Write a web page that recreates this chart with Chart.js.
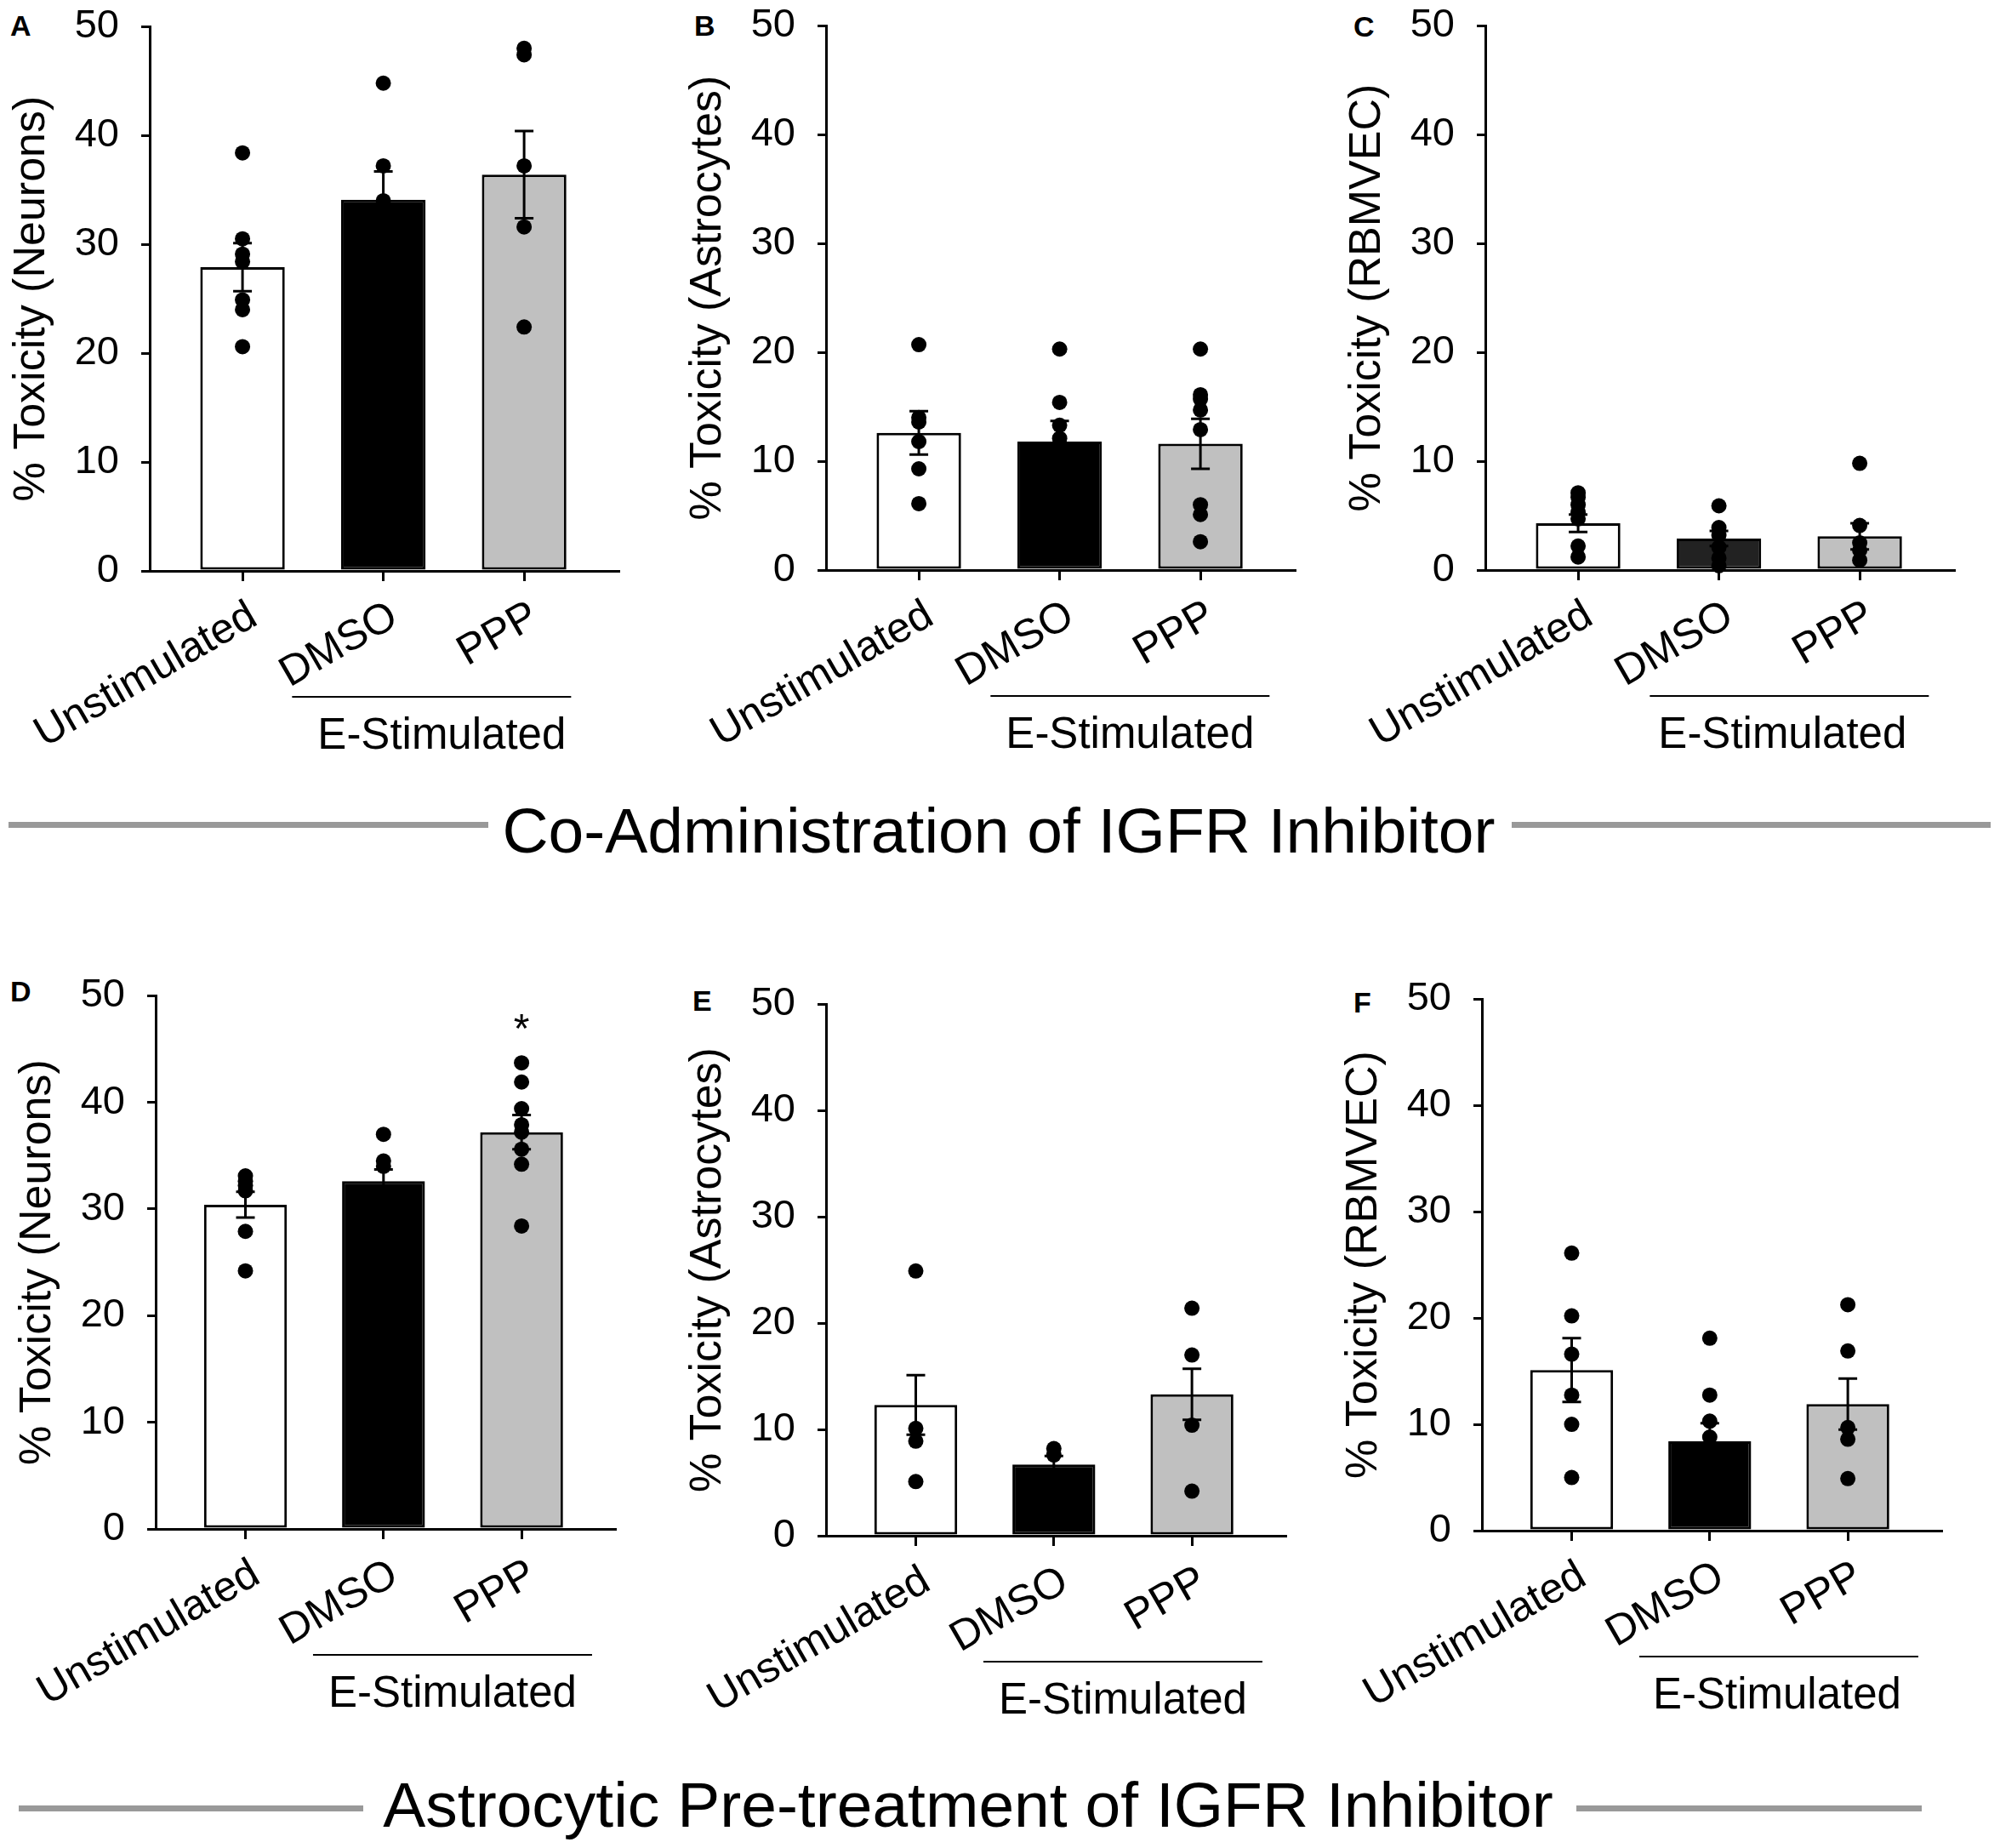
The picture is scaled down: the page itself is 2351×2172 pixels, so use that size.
<!DOCTYPE html>
<html>
<head>
<meta charset="utf-8">
<script src="https://cdn.jsdelivr.net/npm/chart.js@4"></script>
<style>
  html, body { margin: 0; padding: 0; background: #fff; }
  body { width: 2351px; height: 2172px; position: relative; overflow: hidden;
         font-family: "Liberation Sans", Arial, sans-serif; }
  canvas { position: absolute; }
  .letter { position: absolute; font-weight: bold; font-size: 34px; line-height: 1; color: #000; }
  .heading { position: absolute; font-size: 75px; line-height: 1; color: #000; white-space: nowrap; transform: translateX(-50%); }
  .rule { position: absolute; height: 7px; background: #999999; }
</style>
</head>
<body>

<div class="letter" style="left:12px;top:13px;">A</div>
<div class="letter" style="left:816px;top:13px;">B</div>
<div class="letter" style="left:1591px;top:14px;">C</div>
<div class="letter" style="left:12px;top:1148px;">D</div>
<div class="letter" style="left:814px;top:1159px;">E</div>
<div class="letter" style="left:1591px;top:1161px;">F</div>

<div class="rule" style="left:10px;width:564px;top:966px;"></div>
<div class="heading" style="left:1174px;top:939px;">Co-Administration of IGFR Inhibitor</div>
<div class="rule" style="left:1777px;width:563px;top:966px;"></div>

<div class="rule" style="left:22px;width:405px;top:2122px;"></div>
<div class="heading" style="left:1138px;top:2084px;">Astrocytic Pre-treatment of IGFR Inhibitor</div>
<div class="rule" style="left:1853px;width:406px;top:2122px;"></div>

<canvas id="cA"></canvas>
<canvas id="cB"></canvas>
<canvas id="cC"></canvas>
<canvas id="cD"></canvas>
<canvas id="cE"></canvas>
<canvas id="cF"></canvas>

<script>
// ---------------- data ----------------
const categories = ['Unstimulated', 'DMSO', 'PPP'];
const groupLabel = 'E-Stimulated';
const yTickValues = [0, 10, 20, 30, 40, 50];

// Panel A - Neurons, co-administration
const meansA = [27.9, 34.1, 36.4];
const semA = [2.2, 2.6, 4.0];
const pointsA_unstim = [38.4, 30.5, 29.1, 28.4, 24.9, 24.0, 20.6];
const pointsA_dmso = [44.8, 37.2, 34.0];
const pointsA_ppp = [48.0, 47.4, 37.2, 31.6, 22.4];

// Panel B - Astrocytes, co-administration
const meansB = [12.6, 11.8, 11.6];
const semB = [2.0, 1.9, 2.3];
const pointsB_unstim = [20.7, 14.0, 13.6, 11.8, 9.3, 6.1];
const pointsB_dmso = [20.3, 15.4, 13.3, 12.1];
const pointsB_ppp = [20.3, 16.1, 15.7, 14.7, 12.9, 6.0, 5.1, 2.6];

// Panel C - RBMVEC, co-administration
const meansC = [4.3, 2.9, 3.1];
const semC = [0.8, 0.7, 1.2];
const pointsC_unstim = [7.1, 6.7, 6.0, 5.3, 4.7, 2.2, 1.2];
const pointsC_dmso = [5.9, 3.9, 3.2, 2.1, 1.1, 0.4];
const pointsC_ppp = [9.8, 4.1, 2.5, 1.8, 0.9];

// Panel D - Neurons, astrocytic pre-treatment
const meansD = [30.4, 32.6, 37.2];
const semD = [1.2, 1.1, 1.6];
const pointsD_unstim = [33.1, 32.6, 32.2, 31.7, 27.9, 24.2];
const pointsD_dmso = [37.0, 34.5, 34.0];
const pointsD_ppp = [43.7, 41.9, 39.4, 37.9, 37.2, 35.6, 34.2, 28.4];
const sigD = ['', '', '*'];

// Panel E - Astrocytes, astrocytic pre-treatment
const meansE = [12.3, 6.7, 13.3];
const semE = [2.8, 0.8, 2.4];
const pointsE_unstim = [24.9, 10.1, 8.9, 5.1];
const pointsE_dmso = [8.2, 7.6];
const pointsE_ppp = [21.4, 17.0, 10.4, 4.2];

// Panel F - RBMVEC, astrocytic pre-treatment
const meansF = [15.1, 8.4, 11.9];
const semF = [3.0, 1.7, 2.4];
const pointsF_unstim = [26.1, 20.2, 16.6, 12.75, 10.0, 5.0];
const pointsF_dmso = [18.1, 12.75, 10.3, 8.8];
const pointsF_ppp = [21.25, 16.9, 9.7, 8.6, 4.9];

const yTitles = ['% Toxicity (Neurons)', '% Toxicity (Astrocytes)', '% Toxicity (RBMVEC)'];

// ---------------- styles / layout ----------------
const fillsStd = ['#ffffff', '#000000', '#c0c0c0'];
const fillsC = ['#ffffff', '#222222', '#c0c0c0'];
const FONT = '"Liberation Sans", Arial, sans-serif';
Chart.defaults.font.family = FONT;
Chart.defaults.color = '#000';

const Y_BOX = 200, PAD_TOP = 30, X_BOX = 240, PAD_RIGHT = 12;

const panels = [
  { id: 'cA', title: yTitles[0], means: meansA, sem: semA, pts: [pointsA_unstim, pointsA_dmso, pointsA_ppp], fills: fillsStd,
    axisX: 176, yTop: 31, yZero: 671, chartW: 551, xMin: -0.659, xMax: 2.670, lineShift: -26, textShift: -14 },
  { id: 'cB', title: yTitles[1], means: meansB, sem: semB, pts: [pointsB_unstim, pointsB_dmso, pointsB_ppp], fills: fillsStd,
    axisX: 971, yTop: 30, yZero: 670, chartW: 551, xMin: -0.659, xMax: 2.670, lineShift: 0, textShift: 0 },
  { id: 'cC', title: yTitles[2], means: meansC, sem: semC, pts: [pointsC_unstim, pointsC_dmso, pointsC_ppp], fills: fillsC,
    axisX: 1746, yTop: 30, yZero: 670, chartW: 551, xMin: -0.659, xMax: 2.670, lineShift: 0, textShift: -8 },
  { id: 'cD', title: yTitles[0], means: meansD, sem: semD, pts: [pointsD_unstim, pointsD_dmso, pointsD_ppp], fills: fillsStd,
    axisX: 183, yTop: 1170, yZero: 1797, chartW: 540, xMin: -0.650, xMax: 2.677, lineShift: 0, textShift: 0, sig: sigD },
  { id: 'cE', title: yTitles[1], means: meansE, sem: semE, pts: [pointsE_unstim, pointsE_dmso, pointsE_ppp], fills: fillsStd,
    axisX: 971, yTop: 1180, yZero: 1805, chartW: 540, xMin: -0.650, xMax: 2.677, lineShift: 0, textShift: 0 },
  { id: 'cF', title: yTitles[2], means: meansF, sem: semF, pts: [pointsF_unstim, pointsF_dmso, pointsF_ppp], fills: fillsStd,
    axisX: 1742, yTop: 1174, yZero: 1799, chartW: 540, xMin: -0.650, xMax: 2.677, lineShift: 0, textShift: -2 }
];

function makePlugins(p) {
  const errorBars = {
    id: 'errorBars',
    afterDatasetsDraw(chart) {
      const { ctx, scales: { x, y } } = chart;
      ctx.save();
      ctx.strokeStyle = '#000';
      ctx.lineWidth = 3;
      p.means.forEach((m, i) => {
        const px = x.getPixelForValue(i);
        const yt = y.getPixelForValue(m + p.sem[i]);
        const yb = y.getPixelForValue(m - p.sem[i]);
        const cap = 11;
        ctx.beginPath();
        ctx.moveTo(px, yt); ctx.lineTo(px, yb);
        ctx.moveTo(px - cap, yt); ctx.lineTo(px + cap, yt);
        ctx.moveTo(px - cap, yb); ctx.lineTo(px + cap, yb);
        ctx.stroke();
      });
      ctx.restore();
    }
  };
  const labelsAndBracket = {
    id: 'labelsAndBracket',
    afterDraw(chart) {
      const { ctx, scales: { x, y } } = chart;
      const y0 = y.getPixelForValue(0);
      ctx.save();
      ctx.fillStyle = '#000';
      // rotated category labels, anchored at their tick
      ctx.font = '50px ' + FONT;
      ctx.textAlign = 'right';
      ctx.textBaseline = 'middle';
      categories.forEach((c, i) => {
        ctx.save();
        ctx.translate(x.getPixelForValue(i) + 13, y0 + 50);
        ctx.rotate(-Math.PI / 6);
        ctx.fillText(c, 0, 0);
        ctx.restore();
      });
      // E-Stimulated bracket
      const mid = (x.getPixelForValue(1) + x.getPixelForValue(2)) / 2;
      ctx.strokeStyle = '#000';
      ctx.lineWidth = 2;
      ctx.beginPath();
      ctx.moveTo(mid + p.lineShift - 164, y0 + 148);
      ctx.lineTo(mid + p.lineShift + 164, y0 + 148);
      ctx.stroke();
      ctx.font = '51px ' + FONT;
      ctx.textAlign = 'center';
      ctx.textBaseline = 'alphabetic';
      ctx.fillText(groupLabel, mid + p.textShift, y0 + 209);
      if (p.sig) {
        ctx.font = '48px ' + FONT;
        p.sig.forEach((s, i) => {
          if (!s) return;
          const top = Math.max(...p.pts[i], p.means[i] + p.sem[i]);
          ctx.fillText(s, x.getPixelForValue(i), y.getPixelForValue(top) - 24);
        });
      }
      ctx.restore();
    }
  };
  return [errorBars, labelsAndBracket];
}

function build(p, g) {
  const cv = document.getElementById(p.id);
  cv.width = Math.round(g.W); cv.height = Math.round(g.H);
  cv.style.width = Math.round(g.W) + 'px'; cv.style.height = Math.round(g.H) + 'px';
  cv.style.left = Math.round(g.L) + 'px';
  cv.style.top = Math.round(g.T) + 'px';

  const scatterData = [];
  p.pts.forEach((arr, i) => arr.forEach(v => scatterData.push({ x: i, y: v })));

  return new Chart(cv.getContext('2d'), {
    type: 'bar',
    data: {
      datasets: [
        { type: 'scatter', data: scatterData, pointRadius: 9, pointHoverRadius: 9,
          backgroundColor: '#000', pointBackgroundColor: '#000', pointBorderWidth: 0, borderWidth: 0,
          clip: false, order: 0 },
        { type: 'bar', data: p.means.map((m, i) => ({ x: i, y: m })),
          backgroundColor: p.fills, borderColor: '#000', borderWidth: 3, borderSkipped: false,
          barPercentage: 0.6, categoryPercentage: 1.0, order: 1 }
      ]
    },
    options: {
      responsive: false, maintainAspectRatio: false, animation: false, devicePixelRatio: 1,
      layout: { padding: { top: PAD_TOP, right: PAD_RIGHT, left: 0, bottom: 0 } },
      plugins: { legend: { display: false }, tooltip: { enabled: false } },
      scales: {
        x: {
          type: 'linear', min: p.xMin, max: p.xMax, offset: false,
          afterBuildTicks: s => { s.ticks = categories.map((c, i) => ({ value: i })); },
          afterFit: s => { s.height = X_BOX; },
          ticks: { display: false },
          grid: { offset: false, drawOnChartArea: false, drawTicks: true, tickLength: 12, color: '#000', lineWidth: 3 },
          border: { display: true, color: '#000', width: 3 }
        },
        y: {
          min: 0, max: 50,
          afterBuildTicks: s => { s.ticks = yTickValues.map(v => ({ value: v })); },
          afterFit: s => { s.width = Y_BOX; },
          ticks: { font: { size: 47 }, color: '#000', padding: 26 },
          grid: { offset: false, drawOnChartArea: false, drawTicks: true, tickLength: 10, color: '#000', lineWidth: 3 },
          border: { display: true, color: '#000', width: 3 },
          title: { display: true, text: p.title, font: { size: 52 }, color: '#000', padding: { top: 30, bottom: 0 } }
        }
      }
    },
    plugins: makePlugins(p)
  });
}

panels.forEach(p => {
  let g = { W: Y_BOX + p.chartW + PAD_RIGHT, H: PAD_TOP + (p.yZero - p.yTop) + X_BOX,
            L: p.axisX - Y_BOX, T: p.yTop - PAD_TOP };
  let chart = build(p, g);
  for (let k = 0; k < 4; k++) {
    const ca = chart.chartArea;
    const dL = (g.L + ca.left) - p.axisX;
    const dT = (g.T + ca.top) - p.yTop;
    const dW = p.chartW - (ca.right - ca.left);
    const dH = (p.yZero - p.yTop) - (ca.bottom - ca.top);
    if (Math.abs(dL) < 0.5 && Math.abs(dT) < 0.5 && Math.abs(dW) < 0.5 && Math.abs(dH) < 0.5) break;
    g = { W: g.W + dW, H: g.H + dH, L: g.L - dL, T: g.T - dT };
    chart.destroy();
    chart = build(p, g);
  }
});
</script>
</body>
</html>
